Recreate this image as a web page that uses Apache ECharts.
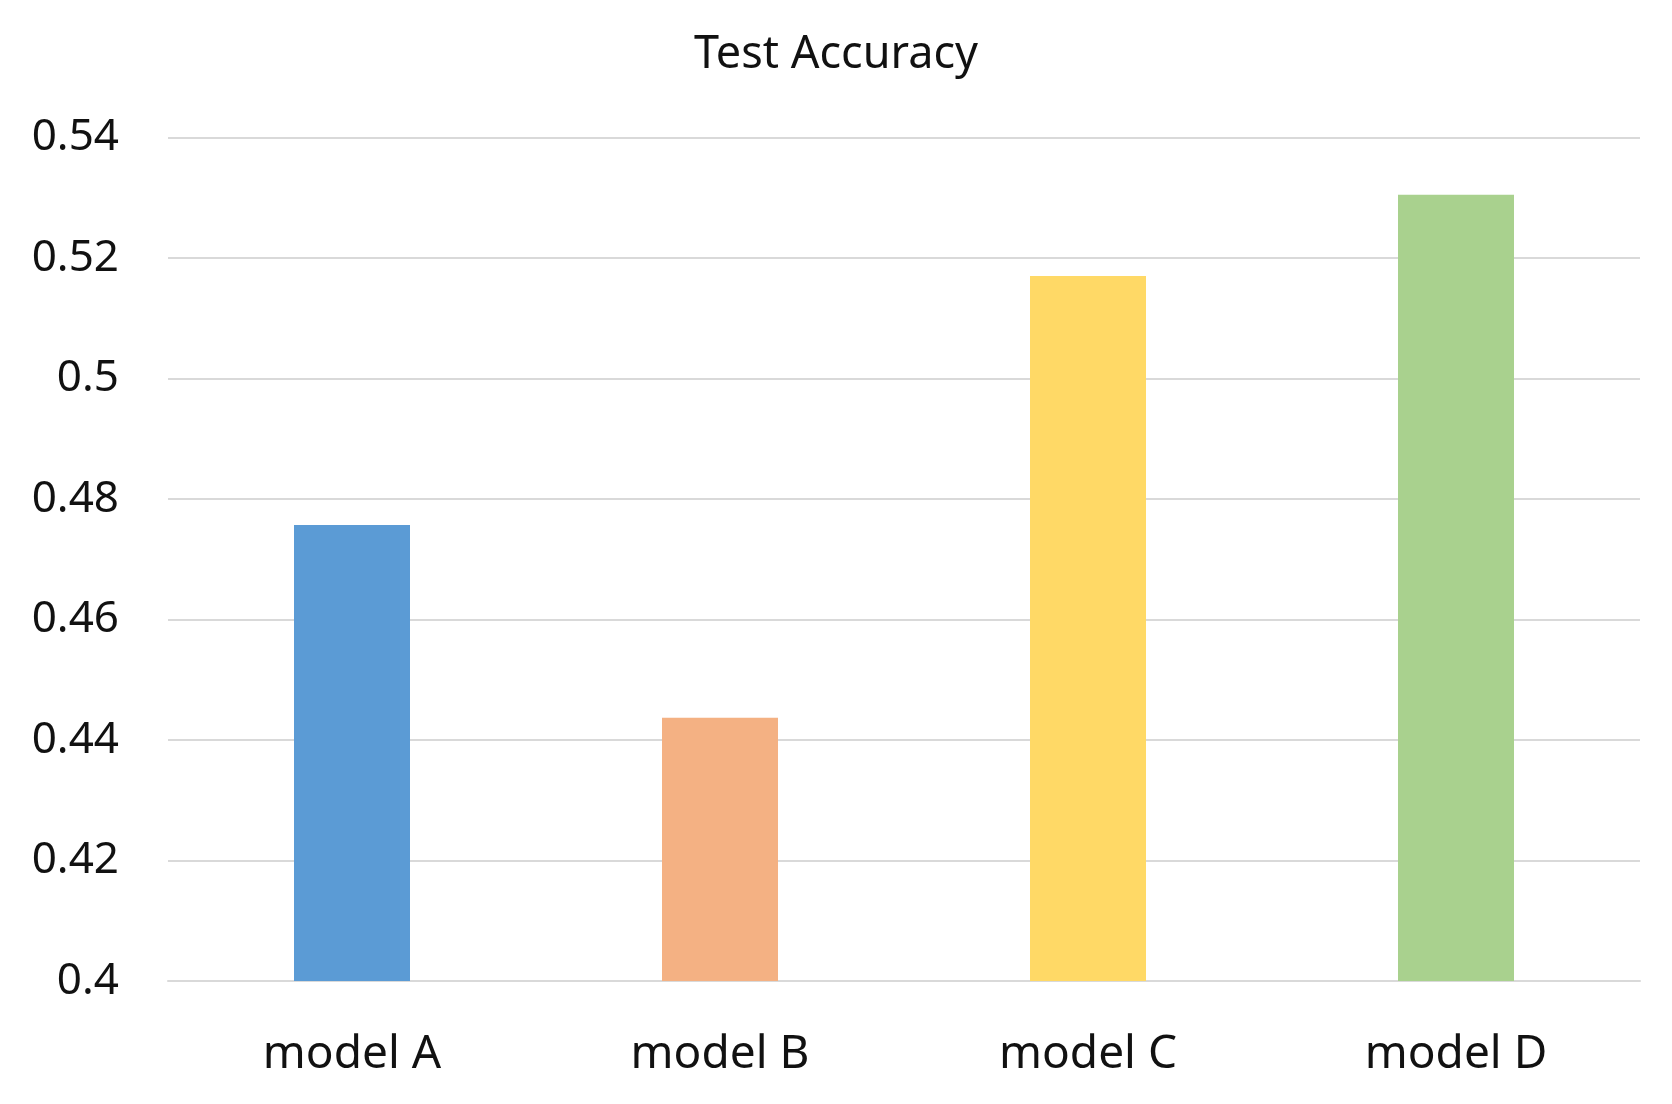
<!DOCTYPE html>
<html>
<head>
<meta charset="utf-8">
<script src="https://cdn.jsdelivr.net/npm/echarts@6/dist/echarts.min.js"></script>
<style>
html,body{margin:0;padding:0;background:#fff;}
#chart{width:1672px;height:1104px;}
</style>
</head>
<body>
<div id="chart"></div>
<script>
const titleText = 'Test Accuracy';
const categories = ['model A', 'model B', 'model C', 'model D'];
const accuracy = [0.4757, 0.4437, 0.5170, 0.5305];
const barColors = ['#5B9BD5', '#F4B183', '#FFD966', '#A9D18E'];
const yMin = 0.4, yMax = 0.54, yStep = 0.02;

const chart = echarts.init(document.getElementById('chart'));
const font = '"Noto Sans", "Open Sans", sans-serif';
chart.setOption({
  backgroundColor: '#ffffff',
  animation: false,
  title: {
    text: titleText,
    left: 'center',
    top: 28,
    textStyle: { fontFamily: font, fontSize: 45, fontWeight: 'normal', color: '#111' }
  },
  grid: { left: 168, right: 32, top: 137.5, bottom: 123, containLabel: false },
  xAxis: {
    type: 'category',
    data: categories,
    axisLine: { show: true, lineStyle: { color: '#d9d9d9', width: 2 } },
    axisTick: { show: false },
    axisLabel: { fontFamily: font, fontSize: 46, color: '#111', margin: 51 }
  },
  yAxis: {
    type: 'value',
    min: yMin, max: yMax, interval: yStep,
    axisLine: { show: false },
    axisTick: { show: false },
    splitLine: { lineStyle: { color: '#d9d9d9', width: 2 } },
    axisLabel: {
      fontFamily: font, fontSize: 44, color: '#111', margin: 49,
      formatter: v => String(parseFloat(v.toFixed(2)))
    }
  },
  series: [{
    type: 'bar',
    barWidth: 116,
    data: accuracy.map((v, i) => ({ value: v, itemStyle: { color: barColors[i] } }))
  }]
});
</script>
</body>
</html>
